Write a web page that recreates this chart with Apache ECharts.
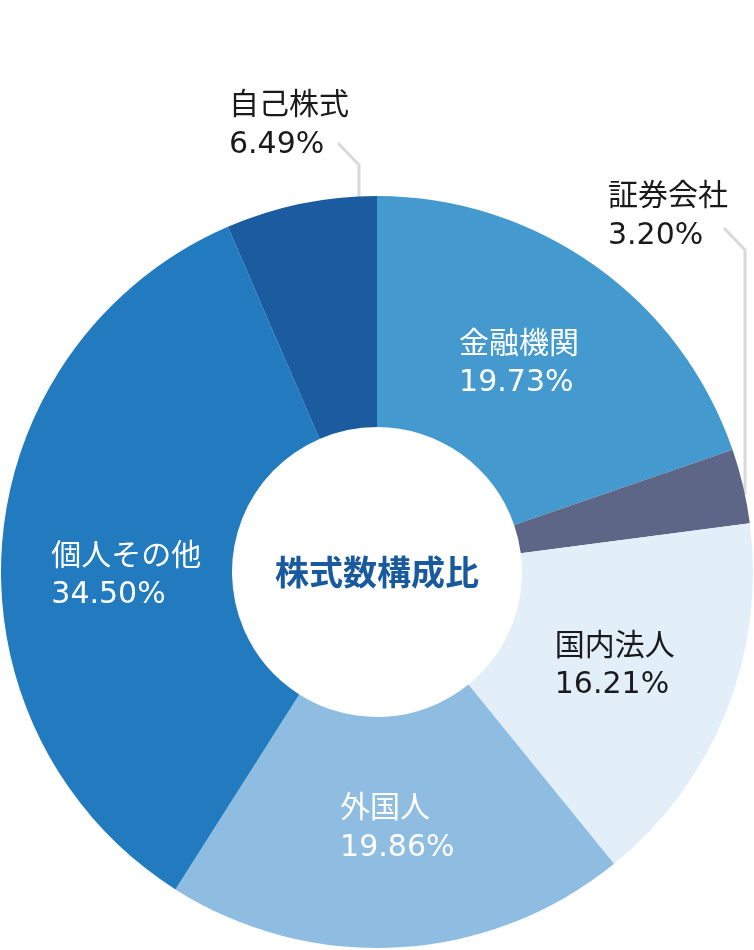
<!DOCTYPE html>
<html>
<head>
<meta charset="utf-8">
<script src="https://cdn.jsdelivr.net/npm/echarts@6/dist/echarts.min.js"></script>
<style>
  html, body { margin: 0; padding: 0; background: #ffffff; }
  #chart { width: 754px; height: 950px; }
</style>
</head>
<body>
<div id="chart"></div>
<script>
// ---- data ----
const categories = ['金融機関', '証券会社', '国内法人', '外国人', '個人その他', '自己株式'];
const values = [19.73, 3.20, 16.21, 19.86, 34.50, 6.49];
const centerTitle = '株式数構成比';

// ---- styles / layout ----
const sliceColors = ['#4499cf', '#5d6686', '#e2eef8', '#8ebde1', '#217bbe', '#1a5c9f'];
const labelColors = ['#ffffff', '#1a1a1a', '#1a1a1a', '#ffffff', '#ffffff', '#1a1a1a'];
const outerNames = ['証券会社', '自己株式'];
const outerLayout = {
  '証券会社': { pos: [608, 215], line: [-4, 13] },
  '自己株式': { pos: [229, 124], line: [-11, 19] }
};
const innerOffset = [[-11, 5], [0, 0], [-7, -5], [5, -8], [12, 23], [0, 0]];

const CX = 377, CY = 572, R = 376, R0 = 145;

const chart = echarts.init(document.getElementById('chart'));

const seriesData = categories.map(function (name, i) {
  const item = {
    name: name,
    value: values[i],
    itemStyle: { color: sliceColors[i] },
    label: { color: labelColors[i] }
  };
  if (outerNames.indexOf(name) >= 0) {
    item.label.position = 'outside';
    item.labelLine = { show: true, lineStyle: { color: '#d9d9d9', width: 3 } };
  }
  return item;
});

chart.setOption({
  animation: false,
  graphic: [{
    type: 'text',
    x: CX,
    y: CY,
    style: {
      text: centerTitle,
      fill: '#185a9d',
      font: 'bold 34px "Noto Sans CJK JP"',
      align: 'center',
      verticalAlign: 'middle',
      textAlign: 'center',
      textVerticalAlign: 'middle'
    },
    z: 100
  }],
  series: [{
    type: 'pie',
    center: [CX, CY],
    radius: [R0, R],
    startAngle: 90,
    clockwise: true,
    avoidLabelOverlap: false,
    silent: true,
    label: {
      show: true,
      position: 'inside',
      overflow: 'none',
      formatter: function (p) {
        return '{n|' + p.name + '}\n{p|' + p.value.toFixed(2) + '%}';
      },
      rich: {
        n: { fontSize: 30, fontFamily: '"Noto Sans CJK JP"', lineHeight: 42 },
        p: { fontSize: 30, fontFamily: '"DejaVu Sans", "Noto Sans CJK JP"', lineHeight: 42 }
      }
    },
    labelLine: { show: false },
    labelLayout: function (p) {
      const i = p.dataIndex;
      const r = p.labelRect;
      const name = categories[i];
      if (outerNames.indexOf(name) >= 0) {
        const cfg = outerLayout[name];
        const x = cfg.pos[0], yMid = cfg.pos[1];
        const p2 = [x + r.width + cfg.line[0], yMid + cfg.line[1]];
        const p1 = [p2[0] + 21, p2[1] + 22];
        const dx = p1[0] - CX;
        const p0 = [p1[0], CY - Math.sqrt(R * R - dx * dx)];
        return { x: x, y: yMid, align: 'left', verticalAlign: 'middle', labelLinePoints: [p0, p1, p2] };
      }
      const off = innerOffset[i];
      return { x: r.x + off[0], y: r.y + r.height / 2 + off[1], align: 'left', verticalAlign: 'middle' };
    },
    data: seriesData
  }]
});
</script>
</body>
</html>
